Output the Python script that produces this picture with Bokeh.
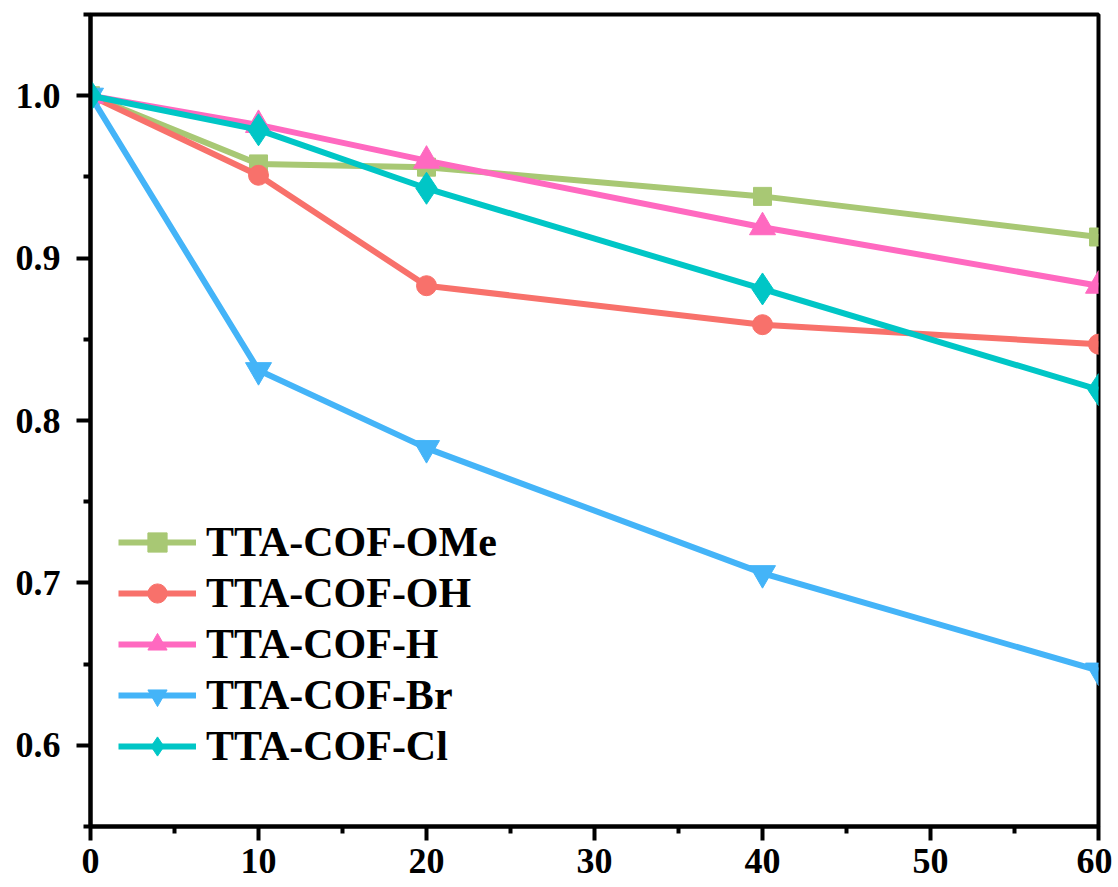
from bokeh.plotting import figure
from bokeh.models import Legend, LegendItem, FixedTicker, PrintfTickFormatter, Range1d
from bokeh.embed import file_html
from bokeh.resources import INLINE

x = [0, 10, 20, 40, 60]
series_names = ["TTA-COF-OMe", "TTA-COF-OH", "TTA-COF-H", "TTA-COF-Br", "TTA-COF-Cl"]
ome = [1.0, 0.958, 0.956, 0.938, 0.913]
oh = [1.0, 0.951, 0.883, 0.859, 0.847]
h = [1.0, 0.982, 0.960, 0.919, 0.883]
br = [1.0, 0.831, 0.783, 0.706, 0.646]
cl = [1.0, 0.979, 0.943, 0.881, 0.819]
x_ticks = [0, 10, 20, 30, 40, 50, 60]
y_ticks = [0.6, 0.7, 0.8, 0.9, 1.0]

colors = ["#a8c874", "#f8716b", "#ff69c0", "#44b4f8", "#00c6c6"]
markers = ["square", "circle", "triangle", "inverted_triangle", "diamond"]
sizes = [18, 20, 26, 26, 32]
data = [ome, oh, h, br, cl]

p = figure(width=1112, height=879, output_backend="svg", toolbar_location=None,
           x_range=Range1d(0, 60), y_range=Range1d(0.55, 1.05),
           min_border_left=90, min_border_top=14, min_border_right=14, min_border_bottom=53)

p.xgrid.visible = False
p.ygrid.visible = False
p.outline_line_color = "black"
p.outline_line_width = 4

font = "'Liberation Serif', 'Times New Roman', serif"
for ax in (p.xaxis[0], p.yaxis[0]):
    ax.axis_line_width = 4
    ax.axis_line_color = "black"
    ax.major_tick_line_width = 4
    ax.minor_tick_line_width = 4
    ax.major_tick_in = 0
    ax.major_tick_out = 14
    ax.minor_tick_in = 0
    ax.minor_tick_out = 7
    ax.major_label_text_font = font
    ax.major_label_text_font_style = "bold"
    ax.major_label_text_font_size = "36px"
    ax.major_label_text_color = "black"

p.xaxis.ticker = FixedTicker(ticks=x_ticks, minor_ticks=[5, 15, 25, 35, 45, 55])
p.yaxis.ticker = FixedTicker(ticks=y_ticks, minor_ticks=[0.55, 0.65, 0.75, 0.85, 0.95, 1.05])
p.yaxis.formatter = PrintfTickFormatter(format="%.1f")
p.xaxis.major_label_standoff = 8
p.yaxis.major_label_standoff = 16

items = []
for name, ys, c, m, s in zip(series_names, data, colors, markers, sizes):
    l = p.line(x, ys, line_color=c, line_width=6)
    sc = p.scatter(x, ys, marker=m, size=s, fill_color=c, line_color=c)
    items.append(LegendItem(label=name, renderers=[l, sc]))

legend = Legend(items=items, location=(28, 56))
legend.border_line_color = None
legend.background_fill_alpha = 0
legend.margin = 0
legend.padding = 0
legend.spacing = 3
legend.glyph_width = 78
legend.glyph_height = 48
legend.label_height = 48
legend.label_standoff = 10
legend.label_text_font = font
legend.label_text_font_style = "bold"
legend.label_text_font_size = "42px"
legend.label_text_color = "black"
p.add_layout(legend, "center")

open("out.html", "w").write(file_html(p, INLINE))
